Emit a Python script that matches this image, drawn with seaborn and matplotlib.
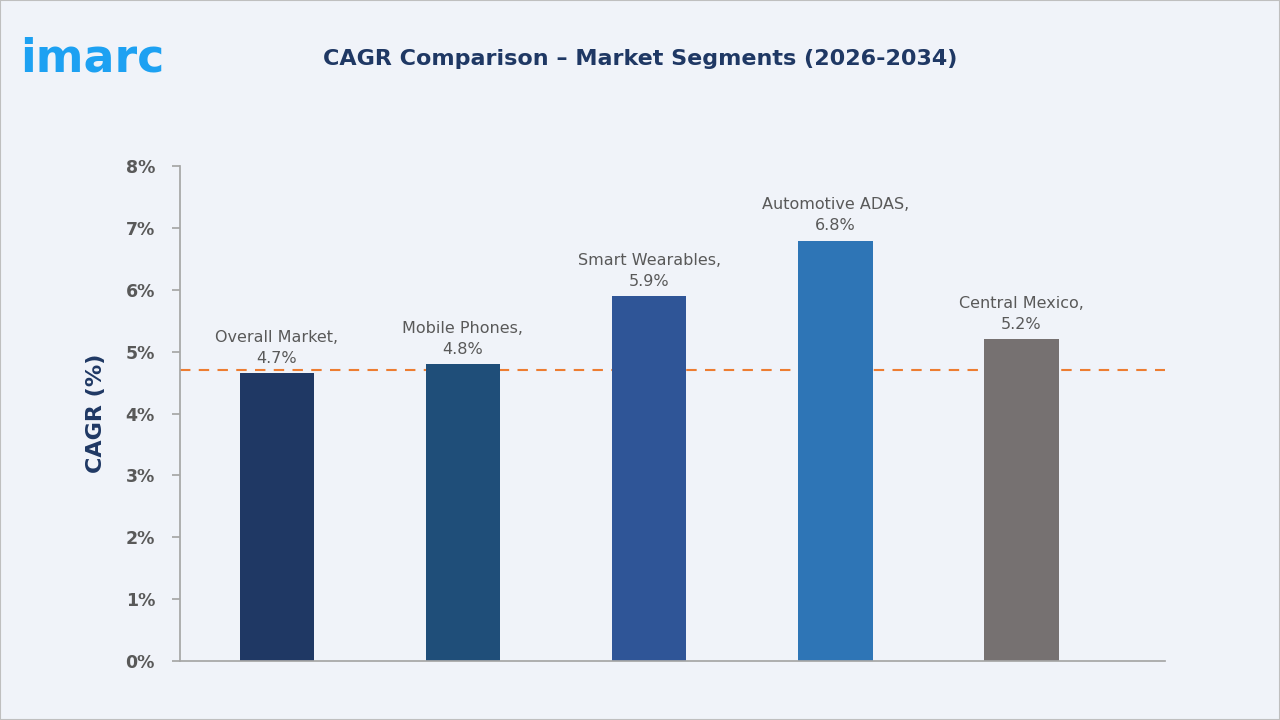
import matplotlib
matplotlib.use("Agg")
import matplotlib.pyplot as plt
import seaborn as sns
import pandas as pd
from matplotlib.patches import Rectangle

categories = ["Overall Market", "Mobile Phones", "Smart Wearables", "Automotive ADAS", "Central Mexico"]
values = [4.65, 4.8, 5.9, 6.8, 5.2]
labels = ["4.7%", "4.8%", "5.9%", "6.8%", "5.2%"]
overall_ref = 4.7
colors = ["#1F3864", "#1F4E79", "#2F5597", "#2E75B6", "#767171"]
yticks = [0, 1, 2, 3, 4, 5, 6, 7, 8]

sns.set_theme(style="white")
plt.rcParams['font.family'] = ['DejaVu Sans']
bg = "#F0F3F9"
fig = plt.figure(figsize=(12.8, 7.2), dpi=100, facecolor=bg)
fig.patches.append(Rectangle((0, 0), 1, 1, transform=fig.transFigure, fill=False,
                             edgecolor="#BFBFBF", linewidth=1.5))
ax = fig.add_axes([0.1406, 0.082, 0.7695, 0.687])
ax.set_facecolor(bg)
df = pd.DataFrame({"cat": categories, "val": values})
sns.barplot(data=df, x="cat", y="val", hue="cat", palette=colors, width=0.4,
            legend=False, ax=ax, saturation=1, linewidth=0)
ax.axhline(overall_ref, color="#ED7D31", linestyle=(0, (5, 4)), linewidth=1.5, zorder=0)
ax.set_ylim(0, 8)
ax.set_xlim(-0.52, 4.77)
ax.set_yticks(yticks)
ax.set_yticklabels([f"{t}%" for t in yticks], color="#595959", fontsize=12.5, fontweight="bold")
ax.set_xticks([])
ax.set_xlabel("")
ax.set_ylabel("CAGR (%)", fontsize=16, fontweight="bold", color="#1F3864", labelpad=14)
for s in ["top", "right"]:
    ax.spines[s].set_visible(False)
for s in ["left", "bottom"]:
    ax.spines[s].set_color("#A6A6A6")
ax.tick_params(axis="y", which="both", left=True, length=6, color="#A6A6A6", pad=12)
for i, (c, v, l) in enumerate(zip(categories, values, labels)):
    ax.text(i, v + 0.12, f"{c},\n{l}", ha="center", va="bottom", fontsize=11.5,
            color="#595959", linespacing=1.5)
fig.text(0.5, 0.918, "CAGR Comparison – Market Segments (2026-2034)", ha="center", va="center",
         fontsize=16, fontweight="bold", color="#1F3864")
fig.text(0.016, 0.918, "imarc", ha="left", va="center", fontsize=33, color="#1DA1F2",
         fontweight="semibold")
fig.savefig("out.png", dpi=100, facecolor=bg)
